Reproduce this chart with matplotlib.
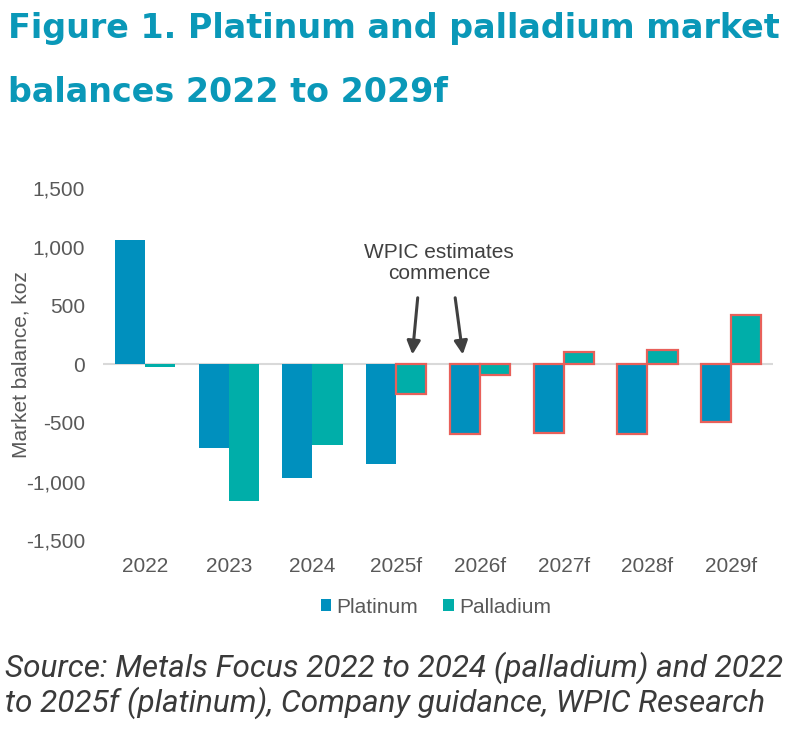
import matplotlib.pyplot as plt
import numpy as np

plt.rcParams['font.family'] = ['Liberation Sans', 'DejaVu Sans']

years = ['2022', '2023', '2024', '2025f', '2026f', '2027f', '2028f', '2029f']
platinum = [1060, -711, -972, -852, -590, -585, -595, -490]
palladium = [-20, -1165, -690, -256, -90, 105, 124, 422]
# bars that are WPIC estimates get a red outline
pt_estimate = [False, False, False, False, True, True, True, True]
pd_estimate = [False, False, False, True, True, True, True, True]

pt_colour = '#0090BE'
pd_colour = '#00AEA9'
est_edge = '#E8605A'
grey_txt = '#595959'

fig = plt.figure(figsize=(8.06, 7.38), dpi=100)
ax = fig.add_axes([0.128, 0.268, 0.831, 0.4767])

x = np.arange(len(years))
w = 0.36
bars_pt = ax.bar(x - w / 2, platinum, w, color=pt_colour, label='Platinum', zorder=3)
bars_pd = ax.bar(x + w / 2, palladium, w, color=pd_colour, label='Palladium', zorder=3)
for b, est in zip(bars_pt, pt_estimate):
    if est:
        b.set_edgecolor(est_edge)
        b.set_linewidth(1.6)
for b, est in zip(bars_pd, pd_estimate):
    if est:
        b.set_edgecolor(est_edge)
        b.set_linewidth(1.6)

ax.axhline(0, color='#D9D9D9', lw=1.5, zorder=2)
ax.set_xlim(-0.5, len(years) - 0.5)
ax.set_ylim(-1500, 1500)
ax.set_yticks(range(-1500, 1501, 500))
ax.set_yticklabels([f'{v:,}' for v in range(-1500, 1501, 500)])
ax.set_xticks(x)
ax.set_xticklabels(years)
ax.tick_params(length=0, labelsize=15, colors=grey_txt, pad=12)
ax.tick_params(axis='y', pad=13)
for s in ax.spines.values():
    s.set_visible(False)
ax.set_ylabel('Market balance, koz', fontsize=15, color=grey_txt)
ax.yaxis.set_label_coords(-0.108, 0.5)

ax.text(3.51, 864, 'WPIC estimates\ncommence', ha='center', va='center',
        fontsize=15, color='#404040', linespacing=1.1)
arrow = dict(arrowstyle='-|>,head_width=0.4,head_length=0.8', color='#404040', lw=2.2)
ax.annotate('', xy=(3.19, 60), xytext=(3.26, 591), arrowprops=arrow)
ax.annotate('', xy=(3.80, 60), xytext=(3.70, 591), arrowprops=arrow)

leg = ax.legend(loc='center', bbox_to_anchor=(0.497, -0.19), ncol=2, frameon=False,
                fontsize=15, handlelength=0.5, handleheight=0.5, handletextpad=0.25,
                columnspacing=1.2)
for t in leg.get_texts():
    t.set_color(grey_txt)

title_font = dict(ha='left', va='baseline', fontsize=24, fontweight='bold',
                  color='#0A98B8', family='DejaVu Sans')
fig.text(0.010, 1 - 38 / 738, 'Figure 1. Platinum and palladium market', **title_font)
fig.text(0.010, 1 - 102 / 738, 'balances 2022 to 2029f', **title_font)

src_font = dict(ha='left', va='baseline', fontsize=22.7, style='italic',
                color='#3A3A3A', family='Roboto')
fig.text(0.006, 1 - 677 / 738, 'Source: Metals Focus 2022 to 2024 (palladium) and 2022', **src_font)
fig.text(0.006, 1 - 712 / 738, 'to 2025f (platinum), Company guidance, WPIC Research', **src_font)

fig.savefig('out.png', dpi=100)
